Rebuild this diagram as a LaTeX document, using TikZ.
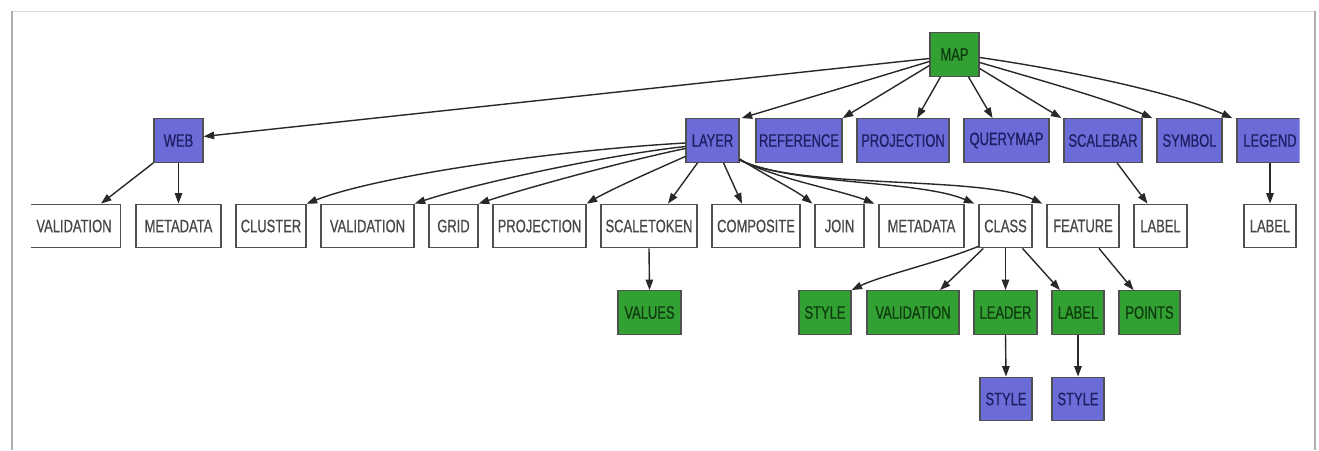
\documentclass[tikz,border=0pt]{standalone}
\usepackage{fontspec}
\setmainfont{Liberation Sans}[FakeStretch=0.72,FakeBold=0.6]
\usetikzlibrary{arrows.meta}

\definecolor{boxblue}{RGB}{108,108,216}
\definecolor{boxgreen}{RGB}{50,160,50}
\definecolor{bluetext}{RGB}{30,30,100}
\definecolor{greentext}{RGB}{15,60,15}
\definecolor{greytext}{RGB}{72,72,72}
\definecolor{boxline}{RGB}{80,80,80}
\definecolor{edgecol}{RGB}{40,40,40}
\definecolor{framegrey}{RGB}{175,175,175}
\definecolor{framelight}{RGB}{218,218,218}

\begin{document}
\begin{tikzpicture}[x=1pt,y=-1pt,
  box/.style={draw=boxline, line width=1.3pt, inner sep=0pt,
    minimum height=43.5pt, font=\fontsize{18}{20}\selectfont},
  bluebox/.style={box, fill=boxblue, text=bluetext},
  greenbox/.style={box, fill=boxgreen, text=greentext},
  plainbox/.style={box, fill=white, text=greytext},
  edge/.style={draw=edgecol, line width=1.4pt,
    -{Triangle[length=10.5pt,width=7.5pt]}},
]
\useasboundingbox (0,0) rectangle (1319,450);

% window frame
\draw[framelight, line width=1pt] (12,11) -- (1315,11);
\draw[framegrey, line width=2pt] (12,11) -- (12,450);
\draw[framegrey, line width=2.5pt] (1315,11) -- (1315,450);

\begin{scope}
\clip (31,0) rectangle (1299.5,450);

% root
\node[greenbox, minimum width=49pt] (map) at (954.5,54.5) {MAP};

% first level
\node[bluebox, minimum width=49pt] (web)        at (178.5,140.5) {WEB};
\node[bluebox, minimum width=53pt] (layer)      at (712.5,140.5) {LAYER};
\node[bluebox, minimum width=86pt] (reference)  at (799,140.5)   {REFERENCE};
\node[bluebox, minimum width=92pt] (projection) at (903,140.5)   {PROJECTION};
\node[bluebox, minimum width=85pt] (querymap)   at (1006.5,140.5){QUERYMAP};
\node[bluebox, minimum width=78pt] (scalebar)   at (1103,140.5)  {SCALEBAR};
\node[bluebox, minimum width=65pt] (symbol)     at (1189.5,140.5){SYMBOL};
\node[bluebox, minimum width=66pt] (legend)     at (1270,140.5)  {LEGEND};

% second level
\node[plainbox, minimum width=93pt] (val1)       at (74,226)     {VALIDATION};
\node[plainbox, minimum width=85pt] (meta1)      at (178.5,226)  {METADATA};
\node[plainbox, minimum width=70pt] (cluster)    at (271,226)    {CLUSTER};
\node[plainbox, minimum width=93pt] (val2)       at (367.5,226)  {VALIDATION};
\node[plainbox, minimum width=49pt] (grid)       at (453.5,226)  {GRID};
\node[plainbox, minimum width=93pt] (proj2)      at (539.5,226)  {PROJECTION};
\node[plainbox, minimum width=96pt] (scaletoken) at (649,226)    {SCALETOKEN};
\node[plainbox, minimum width=88pt] (composite)  at (756,226)    {COMPOSITE};
\node[plainbox, minimum width=49pt] (join)       at (839.5,226)  {JOIN};
\node[plainbox, minimum width=85pt] (meta2)      at (921.5,226)  {METADATA};
\node[plainbox, minimum width=53pt] (class)      at (1005.5,226) {CLASS};
\node[plainbox, minimum width=72pt] (feature)    at (1083,226)   {FEATURE};
\node[plainbox, minimum width=53pt] (label1)     at (1160.5,226) {LABEL};
\node[plainbox, minimum width=52pt] (label2)     at (1270,226)   {LABEL};

% third level
\node[greenbox, minimum width=63pt] (values) at (649.5,312.5) {VALUES};
\node[greenbox, minimum width=52pt] (style1) at (825,312.5)   {STYLE};
\node[greenbox, minimum width=92pt] (val3)   at (913,312.5)   {VALIDATION};
\node[greenbox, minimum width=63pt] (leader) at (1005.5,312.5){LEADER};
\node[greenbox, minimum width=52pt] (label3) at (1078,312.5)  {LABEL};
\node[greenbox, minimum width=61pt] (points) at (1149.5,312.5){POINTS};

% fourth level
\node[bluebox, minimum width=52pt] (style2) at (1006,399) {STYLE};
\node[bluebox, minimum width=52pt] (style3) at (1078,399) {STYLE};

% edges from MAP
\draw[edge] ([yshift=-4pt]map.west) -- ([yshift=4pt]web.east);
\draw[edge] ([yshift=-7pt]map.west) -- ([xshift=2pt]layer.north east);
\draw[edge] ([yshift=-11pt]map.west) -- (reference.north east);
\draw[edge] ([xshift=-14pt]map.south) -- ([xshift=14pt]projection.north);
\draw[edge] ([xshift=14pt]map.south) -- ([xshift=-14pt]querymap.north);
\draw[edge] ([yshift=-14pt]map.east) -- ([xshift=-2pt]scalebar.north west);
\draw[edge] ([yshift=-8pt]map.east) .. controls (1040,80) and (1110,100) .. ([xshift=-4pt]symbol.north west);
\draw[edge] ([yshift=-3pt]map.east) .. controls (1080,72) and (1180,95) .. ([xshift=-4pt]legend.north west);

% edges from WEB
\draw[edge] (web.south west) -- ([xshift=27pt]val1.north);
\draw[edge] (web.south) -- (meta1.north);

% edges from LAYER
\draw[edge] ([yshift=-2.5pt]layer.west) .. controls (560,150) and (380,175) .. (cluster.north east);
\draw[edge] ([yshift=-6pt]layer.west) .. controls (600,156) and (470,185) .. (val2.north east);
\draw[edge] ([yshift=-8pt]layer.west) .. controls (620,162) and (520,190) .. (grid.north east);
\draw[edge] ([yshift=-16pt]layer.west) .. controls (650,172) and (610,190) .. (proj2.north east);
\draw[edge] ([xshift=-15pt]layer.south) -- ([xshift=19pt]scaletoken.north);
\draw[edge] ([xshift=11pt]layer.south) -- ([xshift=-14pt]composite.north);
\draw[edge] ([yshift=4pt]layer.south east) .. controls (765,175) and (795,190) .. ([xshift=-2pt]join.north west);
\draw[edge] ([yshift=3pt]layer.south east) .. controls (780,180) and (840,190) .. ([xshift=-4pt]meta2.north west);
\draw[edge] ([yshift=3pt]layer.south east) .. controls (790,185) and (920,180) .. ([xshift=-4pt]class.north west);
\draw[edge] ([yshift=3pt]layer.south east) .. controls (800,190) and (980,175) .. ([xshift=-4pt]feature.north west);

% lower edges
\draw[edge] (scaletoken.south) -- (values.north);
\draw[edge] ([yshift=2pt]class.south west) .. controls (940,262) and (880,276) .. (style1.north east);
\draw[edge] ([xshift=5pt]class.south west) -- ([xshift=27pt]val3.north);
\draw[edge] (class.south) -- (leader.north);
\draw[edge] ([xshift=17pt]class.south) -- ([xshift=-18pt]label3.north);
\draw[edge] ([xshift=16pt]feature.south) -- ([xshift=-16pt]points.north);
\draw[edge] ([xshift=14pt]scalebar.south) -- ([xshift=-13pt]label1.north);
\draw[edge] (legend.south) -- (label2.north);
\draw[edge] (leader.south) -- (style2.north);
\draw[edge] (label3.south) -- (style3.north);
\end{scope}
\end{tikzpicture}
\end{document}
